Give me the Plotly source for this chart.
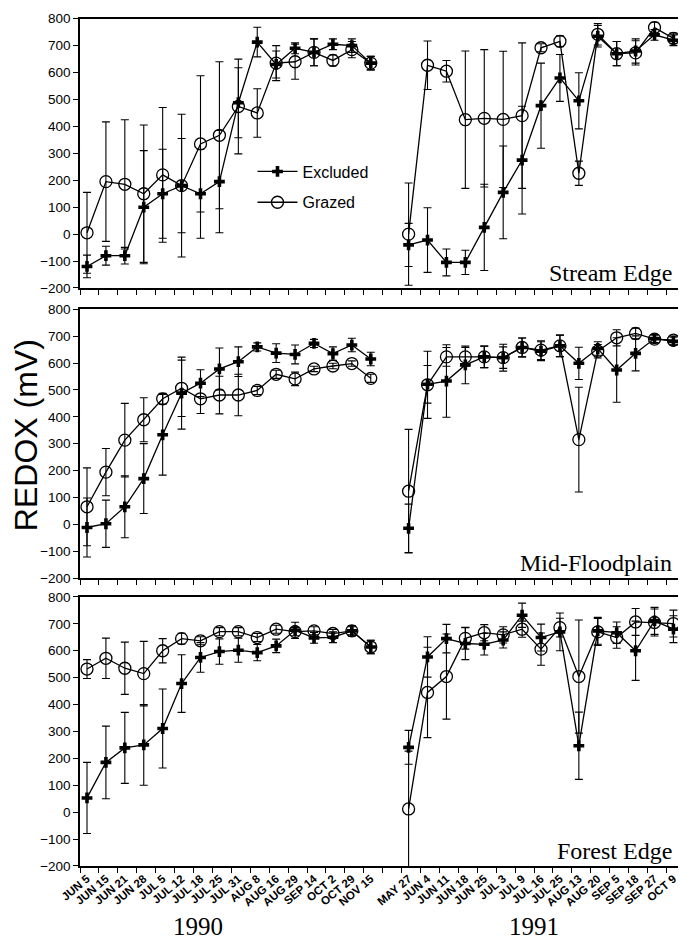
import plotly.graph_objects as go

# ---------------- data ----------------
dates_1990 = ["JUN 5", "JUN 15", "JUN 21", "JUN 28", "JUL 5", "JUL 12", "JUL 18", "JUL 25",
              "JUL 31", "AUG 8", "AUG 16", "AUG 29", "SEP 14", "OCT 2", "OCT 29", "NOV 15"]
dates_1991 = ["MAY 27", "JUN 4", "JUN 11", "JUN 18", "JUN 25", "JUL 3", "JUL 9", "JUL 16",
              "JUL 25", "AUG 13", "AUG 20", "SEP 5", "SEP 18", "SEP 27", "OCT 9"]
years = ["1990", "1991"]
series_names = ["Excluded", "Grazed"]
panel_names = ["Stream Edge", "Mid-Floodplain", "Forest Edge"]

# Stream Edge
se_exc_1990 = [-120, -80, -80, 100, 150, 180, 150, 195, 488, 713, 630, 690, 675, 705, 700, 635]
se_exc_1990_err = [42, 35, 31, 210, 165, 175, 165, 190, 130, 55, 50, 20, 50, 20, 25, 25]
se_grz_1990 = [5, 195, 185, 150, 220, 180, 335, 367, 474, 450, 635, 640, 675, 645, 685, 635]
se_grz_1990_err = [150, 222, 240, 255, 250, 265, 253, 273, 176, 90, 65, 65, 50, 20, 30, 25]
se_exc_1991 = [-40, -22, -105, -105, 25, 155, 275, 477, 580, 495, 735, 670, 680, 740, 720]
se_exc_1991_err = [80, 120, 50, 45, 160, 172, 200, 158, 87, 104, 40, 45, 45, 20, 20]
se_grz_1991 = [0, 627, 605, 425, 430, 426, 440, 692, 716, 226, 742, 670, 673, 767, 727]
se_grz_1991_err = [190, 90, 40, 255, 255, 253, 270, 15, 20, 45, 40, 45, 45, 20, 20]

# Mid-Floodplain
mf_exc_1990 = [-12, 2, 65, 170, 333, 488, 525, 578, 605, 660, 637, 632, 673, 635, 667, 615]
mf_exc_1990_err = [110, 88, 115, 130, 150, 134, 50, 78, 55, 15, 35, 35, 15, 25, 25, 25]
mf_grz_1990 = [65, 194, 313, 389, 467, 506, 467, 481, 481, 498, 558, 541, 578, 589, 598, 543]
mf_grz_1990_err = [145, 88, 137, 82, 20, 105, 55, 70, 77, 15, 15, 25, 10, 10, 10, 15]
mf_exc_1991 = [-15, 521, 533, 593, 623, 620, 658, 644, 664, 599, 654, 574, 636, 691, 681]
mf_exc_1991_err = [90, 70, 135, 70, 40, 50, 35, 35, 40, 60, 25, 120, 65, 15, 15]
mf_grz_1991 = [123, 519, 623, 623, 623, 620, 658, 648, 664, 315, 644, 694, 710, 689, 685]
mf_grz_1991_err = [230, 125, 35, 35, 40, 40, 35, 35, 40, 195, 25, 30, 20, 15, 15]

# Forest Edge
fe_exc_1990 = [53, 185, 239, 250, 311, 478, 575, 597, 602, 593, 618, 676, 648, 650, 674, 614]
fe_exc_1990_err = [132, 135, 132, 150, 147, 107, 55, 47, 45, 30, 25, 30, 20, 20, 20, 25]
fe_grz_1990 = [532, 572, 535, 515, 600, 645, 637, 671, 671, 649, 680, 671, 674, 664, 674, 614]
fe_grz_1990_err = [35, 75, 97, 120, 45, 20, 15, 15, 15, 15, 15, 15, 15, 15, 15, 25]
fe_exc_1991 = [241, 577, 645, 627, 624, 640, 732, 649, 670, 247, 674, 667, 600, 711, 680]
fe_exc_1991_err = [63, 75, 53, 60, 40, 30, 45, 50, 70, 125, 50, 40, 110, 50, 50]
fe_grz_1991 = [12, 445, 504, 646, 667, 659, 680, 606, 686, 504, 670, 649, 707, 705, 701]
fe_grz_1991_err = [215, 168, 158, 40, 30, 30, 30, 60, 35, 210, 50, 40, 50, 50, 50]

y_ticks = [-200, -100, 0, 100, 200, 300, 400, 500, 600, 700, 800]

# ---------------- build ----------------
pos_1990 = list(range(len(dates_1990)))
pos_1991 = list(range(len(dates_1990) + 1, len(dates_1990) + 1 + len(dates_1991)))
n_slots = len(dates_1990) + 1 + len(dates_1991)

panels = [
    (se_exc_1990, se_exc_1990_err, se_grz_1990, se_grz_1990_err,
     se_exc_1991, se_exc_1991_err, se_grz_1991, se_grz_1991_err),
    (mf_exc_1990, mf_exc_1990_err, mf_grz_1990, mf_grz_1990_err,
     mf_exc_1991, mf_exc_1991_err, mf_grz_1991, mf_grz_1991_err),
    (fe_exc_1990, fe_exc_1990_err, fe_grz_1990, fe_grz_1990_err,
     fe_exc_1991, fe_exc_1991_err, fe_grz_1991, fe_grz_1991_err),
]
domains = [[0.6816, 0.9992], [0.3396, 0.6565], [0.0, 0.3173]]

fig = go.Figure()
LW = 1.3
for p, data in enumerate(panels):
    xa = "x" if p == 0 else f"x{p+1}"
    ya = "y" if p == 0 else f"y{p+1}"
    e90, ee90, g90, ge90, e91, ee91, g91, ge91 = data
    for (vals, errs, pos, is_exc, first) in [
        (g90, ge90, pos_1990, False, True), (g91, ge91, pos_1991, False, False),
        (e90, ee90, pos_1990, True, True), (e91, ee91, pos_1991, True, False)]:
        if is_exc:
            marker = dict(symbol="cross", size=9, color="black")
            name = series_names[0]
        else:
            marker = dict(symbol="circle-open", size=12, color="black", line=dict(width=1.3))
            name = series_names[1]
        fig.add_trace(go.Scatter(
            x=pos, y=vals, mode="lines+markers", name=name,
            line=dict(color="black", width=LW), marker=marker,
            error_y=dict(type="data", array=errs, color="black", thickness=1.1, width=4),
            xaxis=xa, yaxis=ya,
            legendgroup=name, legendrank=1 if is_exc else 2,
            showlegend=(p == 0 and first),
        ))

tickvals = pos_1990 + pos_1991
ticktext = dates_1990 + dates_1991
boundaries = [k - 0.37 for k in range(n_slots + 1)]

# the page body adds an 8px offset; size the figure so the plot lands where the reference has it
layout = dict(
    width=678, height=933,
    paper_bgcolor="white", plot_bgcolor="white",
    margin=dict(l=72, r=3, t=7, b=75),
    font=dict(family="Liberation Sans, Arial, sans-serif", color="black"),
    showlegend=True,
    legend=dict(x=0.287, y=0.839, xanchor="left", yanchor="top", itemwidth=40,
                font=dict(size=16, family="Liberation Sans, Arial, sans-serif"),
                bgcolor="rgba(0,0,0,0)", tracegroupgap=7, traceorder="grouped"),
)
for p in range(3):
    xkey = "xaxis" if p == 0 else f"xaxis{p+1}"
    ykey = "yaxis" if p == 0 else f"yaxis{p+1}"
    yref = "y" if p == 0 else f"y{p+1}"
    xref = "x" if p == 0 else f"x{p+1}"
    layout[xkey] = dict(
        domain=[0, 1], anchor=yref, range=[-0.37, n_slots - 0.6],
        tickmode="array", tickvals=tickvals, ticktext=ticktext,
        ticks="", showticklabels=(p == 2), tickangle=-40,
        tickfont=dict(size=11.5, family="Liberation Sans Narrow, Liberation Sans, Arial", weight="bold"),
        showline=True, linecolor="black", linewidth=1.5, mirror=True,
        showgrid=False, zeroline=False,
        minor=dict(tickmode="array", tickvals=boundaries, ticks="outside", ticklen=5,
                   tickcolor="black", tickwidth=1.2, showgrid=False),
    )
    layout[ykey] = dict(
        domain=domains[p], anchor=xref, range=[-200, 800],
        tickmode="array", tickvals=y_ticks,
        ticks="outside", ticklen=5, tickcolor="black", tickwidth=1.2,
        tickfont=dict(size=13.5),
        showline=True, linecolor="black", linewidth=1.5, mirror=True,
        showgrid=False, zeroline=False,
    )

annotations = []
for p, name in enumerate(panel_names):
    xref = "x domain" if p == 0 else f"x{p+1} domain"
    yref = "y domain" if p == 0 else f"y{p+1} domain"
    annotations.append(dict(text=name, xref=xref, yref=yref, x=0.988, y=0.0,
                            xanchor="right", yanchor="bottom", showarrow=False,
                            font=dict(family="Liberation Serif, Times New Roman, serif", size=24)))
annotations.append(dict(text=years[0], xref="paper", yref="paper", x=0.197, y=-0.071,
                        xanchor="center", yanchor="middle", showarrow=False, borderpad=0,
                        font=dict(family="Liberation Serif, Times New Roman, serif", size=25)))
annotations.append(dict(text=years[1], xref="paper", yref="paper", x=0.756, y=-0.071,
                        xanchor="center", yanchor="middle", showarrow=False, borderpad=0,
                        font=dict(family="Liberation Serif, Times New Roman, serif", size=25)))
annotations.append(dict(text="REDOX (mV)", xref="paper", yref="paper", x=-0.09, y=0.508,
                        xanchor="center", yanchor="middle", textangle=-90, showarrow=False,
                        borderpad=0,
                        font=dict(family="Liberation Sans, Arial, sans-serif", size=32)))
layout["annotations"] = annotations

fig.update_layout(**layout)
fig.write_html("out.html")
